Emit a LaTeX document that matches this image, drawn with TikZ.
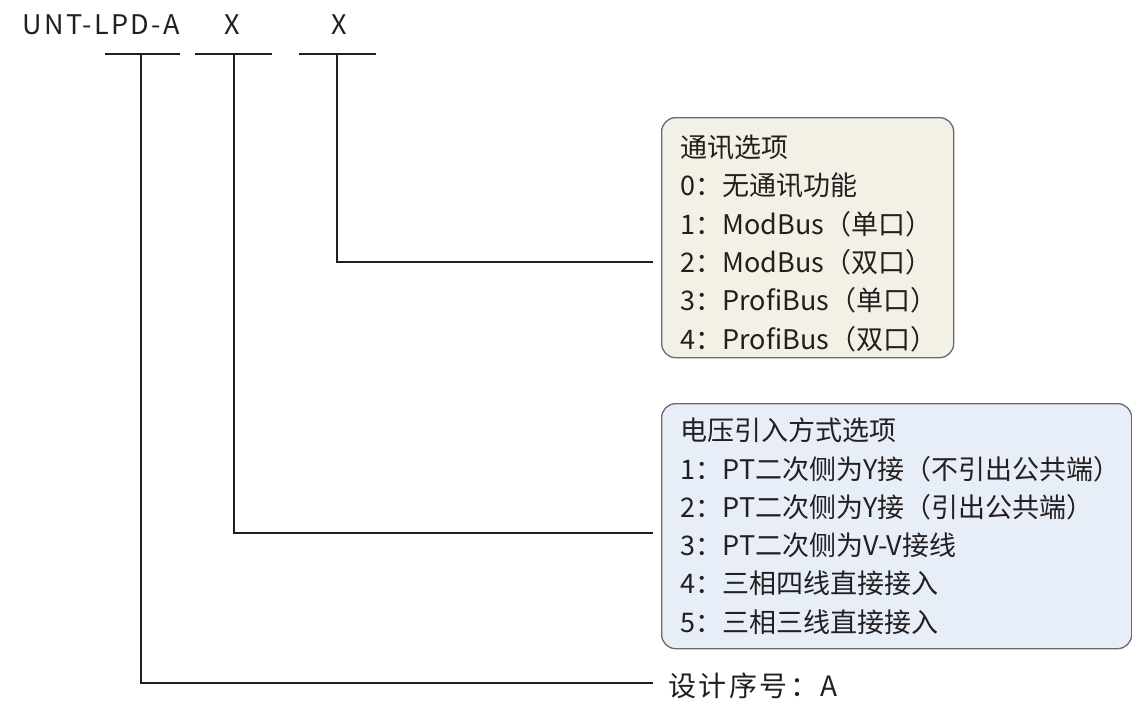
\documentclass[tikz,border=0pt]{standalone}
\usepackage{fontspec}
\setmainfont{Noto Sans CJK SC}
\newfontfamily\spacedfont[LetterSpace=9]{Noto Sans CJK SC}
\definecolor{ink}{HTML}{231F20}
\definecolor{boxline}{HTML}{6A6A6A}
\definecolor{fillA}{HTML}{F3F1E6}
\definecolor{fillB}{HTML}{E8EEF8}
\begin{document}
\begin{tikzpicture}[x=1pt,y=-1pt,
  every node/.style={text=ink},
  conn/.style={line width=1.6pt, draw=ink},
  titletext/.style={font=\spacedfont\fontsize{27}{30}\selectfont, inner sep=0pt},
  optbox/.style={draw=boxline, line width=1.3pt, rounded corners=14pt, anchor=north west,
    align=left, inner xsep=19pt, inner ysep=0pt, font=\fontsize{27}{38.3}\selectfont},
  plain/.style={font=\spacedfont\fontsize{28}{30}\selectfont, inner sep=0pt, anchor=west}]
\useasboundingbox (0,0) rectangle (1132,725);
% title
\node[titletext, anchor=west] (code) at (22,25) {UNT-LPD-A};
\node[titletext] (xa) at (232,25) {X};
\node[titletext] (xb) at (339,25) {X};
% underline segments
\coordinate (u1l) at (105,54); \coordinate (u1r) at (180,54); \coordinate (s1) at (141,54);
\coordinate (u2l) at (195,54); \coordinate (u2r) at (272,54); \coordinate (s2) at (234,54);
\coordinate (u3l) at (299,54); \coordinate (u3r) at (376,54); \coordinate (s3) at (337,54);
\draw[conn] (u1l) -- (u1r);
\draw[conn] (u2l) -- (u2r);
\draw[conn] (u3l) -- (u3r);
% boxes
\node[optbox, fill=fillA, minimum width=292pt, minimum height=240pt, text width=254pt] (comm) at (661,117)
 {\rule{0pt}{34pt}通讯选项\\0：无通讯功能\\1：ModBus（单口）\\2：ModBus（双口）\\3：ProfiBus（单口）\\4：ProfiBus（双口）};
\node[optbox, fill=fillB, minimum width=470pt, minimum height=245pt, text width=432pt] (volt) at (661,403)
 {电压引入方式选项\\1：PT二次侧为Y接（不引出公共端）\\2：PT二次侧为Y接（引出公共端）\\3：PT二次侧为V-V接线\\4：三相四线直接接入\\5：三相三线直接接入};
\node[plain] (design) at (668,686) {设计序号：A};
% connector ends
\coordinate (e3) at (653,262);
\coordinate (e2) at (653,533);
\coordinate (e1) at (653,683);
\draw[conn] (s3) |- (e3);
\draw[conn] (s2) |- (e2);
\draw[conn] (s1) |- (e1);
\end{tikzpicture}
\end{document}
